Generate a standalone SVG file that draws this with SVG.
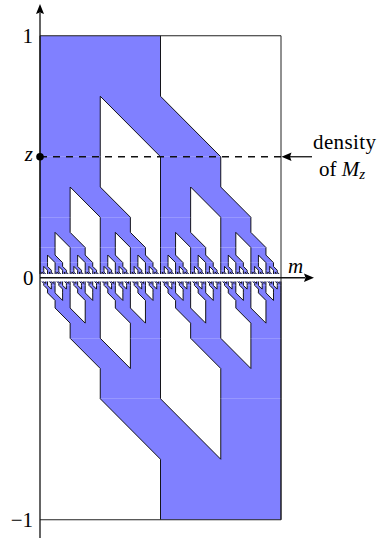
<svg xmlns="http://www.w3.org/2000/svg" width="379" height="538" viewBox="0 0 379 538">
<style>
.f{fill:#8080ff;stroke:none}
.e{fill:none;stroke:#000;stroke-width:0.9;vector-effect:non-scaling-stroke}
.ax{stroke:#111;stroke-width:1.3;fill:none}
.bx{stroke:#222;stroke-width:1;fill:none}
.ah{fill:#000;stroke:none}
.t{font-family:'Liberation Serif','Times New Roman',serif;font-size:21px;fill:#000}
.it{font-style:italic}
</style>
<defs>
<g id="P">
<polygon class="f" points="0,-242 120.5,-242 120.5,-181.5 180.75,-121 120.5,-121 60.25,-181.5 60.25,-121 0,-121"/>
<path class="e" d="M0,-242V-121M120.5,-242V-181.5L180.75,-121M120.5,-121L60.25,-181.5V-121"/>
</g>
<g id="L4"><use href="#P"/><use href="#P" transform="scale(.5)"/><use href="#P" transform="translate(120.5,0) scale(.5)"/></g>
<g id="L3"><use href="#P"/><use href="#L4" transform="scale(.5)"/><use href="#L4" transform="translate(120.5,0) scale(.5)"/></g>
<g id="L2"><use href="#P"/><use href="#L3" transform="scale(.5)"/><use href="#L3" transform="translate(120.5,0) scale(.5)"/></g>
<g id="L1"><use href="#P"/><use href="#L2" transform="scale(.5)"/><use href="#L2" transform="translate(120.5,0) scale(.5)"/></g>
<g id="L0"><use href="#P"/><use href="#L1" transform="scale(.5)"/><use href="#L1" transform="translate(120.5,0) scale(.5)"/></g>
</defs>
<g id="fractal">
<use href="#L0" transform="translate(40,277.75)"/>
<use href="#L0" transform="translate(281,277.75) scale(-1,-1)"/>
</g>
<g id="box">
<path class="bx" d="M40,35.75H281V519.75H40"/>
</g>
<g id="axes">
<path class="ax" d="M40,538V13"/>
<polygon class="ah" points="40,4 44,14 40,12.5 36,14"/>
<path class="ax" d="M40,277.75H305"/>
<polygon class="ah" points="314,277.75 304,273.5 305.5,277.75 304,282"/>
</g>
<g id="zline">
<path d="M40,156.75H281" stroke="#111" stroke-width="1.3" stroke-dasharray="7 6" fill="none"/>
<circle cx="40" cy="156.75" r="3.8" fill="#000"/>
<path d="M312,156.75H289" stroke="#111" stroke-width="1.3" fill="none"/>
<polygon class="ah" points="281.5,156.75 291.5,152.5 290,156.75 291.5,161"/>
</g>
<g id="labels" class="t">
<text x="33" y="42.5" text-anchor="end">1</text>
<text x="33.5" y="284.5" text-anchor="end">0</text>
<text x="33" y="526.5" text-anchor="end">−1</text>
<text x="33" y="161" text-anchor="end" class="it">z</text>
<text x="288" y="273" class="it">m</text>
<text x="313" y="149" textLength="63" lengthAdjust="spacing">density</text>
<text x="319" y="176">of <tspan class="it">M</tspan><tspan class="it" font-size="15" dy="3">z</tspan></text>
</g>
</svg>
